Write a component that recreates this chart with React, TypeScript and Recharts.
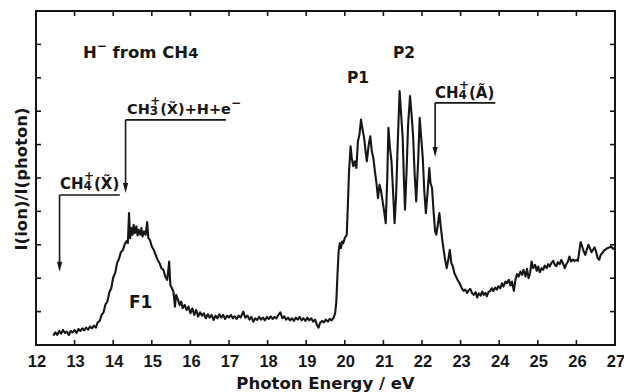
import React from 'react';
import {
  LineChart,
  Line,
  XAxis,
  YAxis,
  ReferenceArea,
  ReferenceLine,
  Customized,
} from 'recharts';

// H- yield from CH4 versus photon energy (eV)
const photonEnergy = [
  12.45, 12.5, 12.55, 12.6, 12.65, 12.7, 12.75, 12.8, 12.85, 12.9, 12.95, 13.0, 13.05, 13.1, 13.15, 13.2,
  13.25, 13.3, 13.35, 13.4, 13.45, 13.5, 13.55, 13.6, 13.65, 13.7, 13.75, 13.8, 13.85, 13.9, 13.95, 14.0,
  14.05, 14.1, 14.15, 14.2, 14.25, 14.3, 14.35, 14.38, 14.41, 14.44, 14.47, 14.5, 14.53, 14.56, 14.6, 14.63,
  14.66, 14.7, 14.73, 14.76, 14.8, 14.84, 14.88, 14.91, 14.95, 15.0, 15.05, 15.1, 15.15, 15.2, 15.25, 15.3,
  15.35, 15.4, 15.45, 15.48, 15.52, 15.56, 15.6, 15.63, 15.68, 15.72, 15.76, 15.8, 15.85, 15.9, 15.95, 16.0,
  16.05, 16.1, 16.15, 16.2, 16.25, 16.3, 16.35, 16.4, 16.45, 16.5, 16.55, 16.6, 16.65, 16.7, 16.75, 16.8,
  16.85, 16.9, 16.95, 17.0, 17.05, 17.1, 17.15, 17.2, 17.25, 17.3, 17.37, 17.42, 17.48, 17.53, 17.58, 17.63,
  17.68, 17.73, 17.78, 17.83, 17.88, 17.93, 17.98, 18.03, 18.08, 18.13, 18.18, 18.23, 18.28, 18.33, 18.38, 18.43,
  18.48, 18.53, 18.58, 18.63, 18.68, 18.73, 18.78, 18.83, 18.88, 18.93, 18.98, 19.03, 19.08, 19.13, 19.18, 19.23,
  19.28, 19.32, 19.36, 19.41, 19.46, 19.51, 19.56, 19.61, 19.66, 19.71, 19.75, 19.78, 19.81, 19.84, 19.87, 19.9,
  19.93, 19.96, 20.0, 20.05, 20.08, 20.11, 20.15, 20.18, 20.22, 20.26, 20.3, 20.34, 20.38, 20.42, 20.46, 20.5,
  20.54, 20.57, 20.62, 20.66, 20.7, 20.74, 20.78, 20.82, 20.86, 20.9, 20.94, 20.98, 21.02, 21.06, 21.1, 21.13,
  21.17, 21.21, 21.25, 21.29, 21.33, 21.37, 21.42, 21.46, 21.5, 21.53, 21.56, 21.6, 21.64, 21.69, 21.73, 21.77,
  21.81, 21.85, 21.9, 21.94, 21.98, 22.02, 22.06, 22.1, 22.14, 22.19, 22.22, 22.26, 22.3, 22.34, 22.37, 22.41,
  22.45, 22.49, 22.52, 22.56, 22.6, 22.64, 22.68, 22.72, 22.76, 22.8, 22.84, 22.88, 22.92, 22.96, 23.0, 23.04,
  23.08, 23.12, 23.17, 23.21, 23.25, 23.3, 23.34, 23.39, 23.43, 23.47, 23.52, 23.56, 23.6, 23.64, 23.68, 23.72,
  23.77, 23.81, 23.85, 23.9, 23.94, 23.98, 24.03, 24.07, 24.11, 24.16, 24.2, 24.25, 24.29, 24.33, 24.38, 24.42,
  24.46, 24.5, 24.55, 24.59, 24.63, 24.68, 24.72, 24.76, 24.8, 24.84, 24.88, 24.93, 24.97, 25.01, 25.05, 25.1,
  25.14, 25.18, 25.23, 25.27, 25.31, 25.35, 25.4, 25.44, 25.48, 25.52, 25.57, 25.61, 25.65, 25.7, 25.74, 25.78,
  25.82, 25.86, 25.91, 25.95, 26.0, 26.04, 26.08, 26.11, 26.15, 26.19, 26.23, 26.27, 26.31, 26.35, 26.39, 26.43,
  26.47, 26.51, 26.55, 26.59, 26.63, 26.67, 26.71, 26.76, 26.8, 26.85, 26.9, 26.95, 27.0,
];

const ionSignal = [
  0.28, 0.38, 0.3, 0.42, 0.34, 0.45, 0.36, 0.4, 0.3, 0.42, 0.38, 0.45, 0.36, 0.48, 0.42, 0.5,
  0.44, 0.52, 0.46, 0.55, 0.5, 0.58, 0.52, 0.68, 0.72, 0.9, 0.98, 1.22, 1.3, 1.58, 1.7, 2.02,
  2.15, 2.45, 2.58, 2.78, 2.84, 3.02, 3.12, 3.05, 3.95, 3.2, 3.5, 3.3, 3.6, 3.35, 3.55, 3.28,
  3.45, 3.3, 3.5, 3.25, 3.4, 3.3, 3.68, 3.2, 3.15, 2.95, 2.85, 2.7, 2.55, 2.45, 2.3, 2.25,
  2.05, 1.95, 2.5, 1.8, 1.7, 1.6, 1.15, 1.5, 1.35, 1.2, 1.3, 1.1, 1.2, 1.05, 1.15, 0.95,
  1.1, 0.9, 1.05, 0.85, 0.98, 0.88, 0.95, 0.8, 0.92, 0.82, 0.9, 0.75, 0.88, 0.8, 0.92, 0.82,
  0.9, 0.78, 0.88, 0.82, 0.9, 0.8, 0.86, 0.78, 0.88, 0.82, 1.0, 0.82, 0.88, 0.76, 0.84, 0.7,
  0.8, 0.75, 0.84, 0.76, 0.82, 0.74, 0.84, 0.78, 0.86, 0.78, 0.84, 0.8, 0.9, 0.98, 0.8, 0.86,
  0.76, 0.82, 0.74, 0.8, 0.72, 0.82, 0.76, 0.84, 0.74, 0.8, 0.72, 0.82, 0.74, 0.8, 0.7, 0.76,
  0.6, 0.52, 0.66, 0.72, 0.68, 0.76, 0.7, 0.78, 0.74, 0.82, 0.95, 1.3, 2.1, 2.8, 3.05, 2.9,
  3.1, 3.05, 3.2, 3.3, 4.2, 5.2, 5.95, 5.6, 5.35, 5.5, 5.3, 6.1, 6.3, 6.75, 6.45, 6.2,
  5.8, 5.5, 6.0, 6.25, 5.8, 5.6, 5.2, 4.85, 4.4, 4.8, 4.6, 4.3, 4.0, 3.65, 5.0, 6.5,
  5.9, 5.5, 4.6, 3.65, 4.5, 6.0, 7.6, 6.9, 6.2, 5.0, 4.05, 5.2, 6.6, 7.45, 6.9, 6.25,
  5.1, 4.3, 5.5, 6.8, 6.2, 5.6, 4.6, 3.95, 4.5, 5.3, 4.85, 4.7, 4.0, 3.4, 3.3, 3.6,
  3.95, 3.5, 3.2, 2.85, 2.55, 2.3, 2.55, 2.85, 2.45, 2.35, 2.15, 2.05, 1.95, 1.88, 1.78, 1.68,
  1.62, 1.66, 1.56, 1.64, 1.68, 1.55, 1.5, 1.58, 1.42, 1.55, 1.48, 1.6, 1.5, 1.56, 1.46, 1.58,
  1.62, 1.7, 1.62, 1.72, 1.66, 1.76, 1.7, 1.85, 1.75, 1.9, 1.85, 1.95, 1.78, 1.9, 1.62, 1.95,
  2.12, 2.05, 2.2, 2.1, 2.25, 2.05, 2.28, 2.0, 2.15, 2.5, 2.3, 2.4, 2.22, 2.35, 2.18, 2.3,
  2.25, 2.38, 2.3, 2.42, 2.35, 2.45, 2.52, 2.4, 2.36, 2.48, 2.42, 2.55, 2.45, 2.3, 2.42, 2.5,
  2.65, 2.5, 2.56, 2.52, 2.55, 2.52, 2.85, 3.08, 2.95, 2.8, 2.7, 2.85, 3.0, 2.9, 2.78, 2.85,
  2.92, 2.8, 2.6, 2.55, 2.7, 2.75, 2.82, 2.86, 2.9, 2.92, 2.95, 2.88, 2.92,
];

const energyTicks = [12, 13, 14, 15, 16, 17, 18, 19, 20, 21, 22, 23, 24, 25, 26, 27];
const signalTicks = [0, 1, 2, 3, 4, 5, 6, 7, 8, 9, 10];

// Ionisation thresholds marked with bent arrows (energy in eV, heights in signal units)
const thresholdEnergy = [12.61, 14.32, 22.34];
const thresholdShelf = [4.49, 6.74, 7.25];
const thresholdShelfEnd = [14.17, 16.92, 23.9];
const thresholdTip = [2.19, 4.55, 5.63];

const rows = photonEnergy.map((e, i) => ({ e, v: ionSignal[i] }));

const INK = '#161616';
const FONT = '"DejaVu Sans", sans-serif';
const TICK_FONT = '"Liberation Sans", Arial, sans-serif';
const W = 624;
const H = 392;
const PLOT_LEFT = 36;
const PLOT_TOP = 11;
const PLOT_RIGHT = 615;
const PLOT_BOTTOM = 345;
const TICK = 5;

const BottomTick = (props: any) => {
  const { x, y, payload } = props;
  return (
    <g>
      <line x1={x} y1={y} x2={x} y2={y - TICK} stroke={INK} strokeWidth={1.6} />
      <line x1={x} y1={PLOT_TOP} x2={x} y2={PLOT_TOP + TICK} stroke={INK} strokeWidth={1.6} />
      <text
        x={x + 1}
        y={y + 22}
        textAnchor="middle"
        fontFamily={TICK_FONT}
        fontWeight={700}
        fontSize={16.5}
        fill={INK}
      >
        {payload.value}
      </text>
    </g>
  );
};

const LeftTick = (props: any) => {
  const { x, y } = props;
  return (
    <g>
      <line x1={x} y1={y} x2={x + TICK} y2={y} stroke={INK} strokeWidth={1.6} />
      <line x1={PLOT_RIGHT} y1={y} x2={PLOT_RIGHT - TICK} y2={y} stroke={INK} strokeWidth={1.6} />
    </g>
  );
};

const ArrowShape = (props: any) => {
  const { x1, y1, x2, y2 } = props;
  const x = (x1 + x2) / 2;
  const top = Math.min(y1, y2);
  const tip = Math.max(y1, y2);
  return (
    <g>
      <line x1={x} y1={top} x2={x} y2={tip - 6} stroke={INK} strokeWidth={1.6} />
      <path d={`M${x - 2.6},${tip - 10} L${x + 2.6},${tip - 10} L${x},${tip} Z`} fill={INK} />
    </g>
  );
};

const textStyle = {
  fontFamily: FONT,
  fontWeight: 700,
  fill: INK,
} as const;

const Annotations = () => (
  <g>
    <text x={83} y={58} fontSize={16.5} {...textStyle}>
      <tspan>H</tspan>
      <tspan dy={-8} fontSize={12}>−</tspan>
      <tspan dy={8}> from CH</tspan>
      <tspan fontSize={14.5}>4</tspan>
    </text>

    <text x={347} y={83} fontSize={15.5} {...textStyle}>P1</text>
    <text x={393} y={58} fontSize={15.5} {...textStyle}>P2</text>
    <text x={129} y={308} fontSize={17} {...textStyle}>F1</text>

    <text x={60} y={189} fontSize={15} {...textStyle}>
      <tspan>CH</tspan>
      <tspan fontSize={12} dy={1}>4</tspan>
      <tspan fontSize={12} dx={-8} dy={-10}>+</tspan>
      <tspan dy={9}>(X̃)</tspan>
    </text>

    <text x={127} y={114} fontSize={14.5} {...textStyle}>
      <tspan>CH</tspan>
      <tspan fontSize={12} dy={1}>3</tspan>
      <tspan fontSize={12} dx={-8} dy={-10}>+</tspan>
      <tspan dy={9}>(X̃)+H+e</tspan>
      <tspan fontSize={12} dy={-7}>−</tspan>
    </text>

    <text x={435} y={98} fontSize={15} {...textStyle}>
      <tspan>CH</tspan>
      <tspan fontSize={12} dy={1}>4</tspan>
      <tspan fontSize={12} dx={-8} dy={-10}>+</tspan>
      <tspan dy={9}>(Ã)</tspan>
    </text>

    <text
      x={(PLOT_LEFT + PLOT_RIGHT) / 2}
      y={389}
      textAnchor="middle"
      fontSize={16.5}
      {...textStyle}
    >
      Photon Energy / eV
    </text>

    <text
      transform={`translate(27, 179) rotate(-90)`}
      textAnchor="middle"
      fontSize={16.5}
      {...textStyle}
    >
      I(ion)/I(photon)
    </text>
  </g>
);

export default function App() {
  return (
    <div style={{ position: 'absolute', left: 0, top: 0, width: W, height: H, background: '#fff' }}>
      <LineChart
        width={W}
        height={H}
        data={rows}
        margin={{ top: PLOT_TOP, right: W - PLOT_RIGHT, bottom: 0, left: 0 }}
      >
        <XAxis
          dataKey="e"
          type="number"
          domain={[12, 27]}
          ticks={energyTicks}
          height={H - PLOT_BOTTOM}
          axisLine={false}
          tickLine={false}
          tickSize={0}
          tickMargin={0}
          tick={<BottomTick />}
          interval={0}
          allowDataOverflow
        />
        <YAxis
          type="number"
          domain={[0, 10]}
          ticks={signalTicks}
          width={PLOT_LEFT}
          axisLine={false}
          tickLine={false}
          tickSize={0}
          tickMargin={0}
          tick={<LeftTick />}
          interval={0}
          allowDataOverflow
        />
        <ReferenceArea
          x1={12}
          x2={27}
          y1={0}
          y2={10}
          fill="none"
          stroke={INK}
          strokeWidth={2}
        />
        {thresholdEnergy.map((e, i) => (
          <ReferenceLine
            key={`shelf-${i}`}
            segment={[
              { x: e, y: thresholdShelf[i] },
              { x: thresholdShelfEnd[i], y: thresholdShelf[i] },
            ]}
            stroke={INK}
            strokeWidth={1.6}
          />
        ))}
        {thresholdEnergy.map((e, i) => (
          <ReferenceLine
            key={`arrow-${i}`}
            segment={[
              { x: e, y: thresholdShelf[i] },
              { x: e, y: thresholdTip[i] },
            ]}
            shape={<ArrowShape />}
          />
        ))}
        <Line
          type="linear"
          dataKey="v"
          dot={false}
          stroke={INK}
          strokeWidth={2.1}
          strokeLinejoin="round"
          isAnimationActive={false}
        />
        <Customized component={<Annotations />} />
      </LineChart>
    </div>
  );
}
